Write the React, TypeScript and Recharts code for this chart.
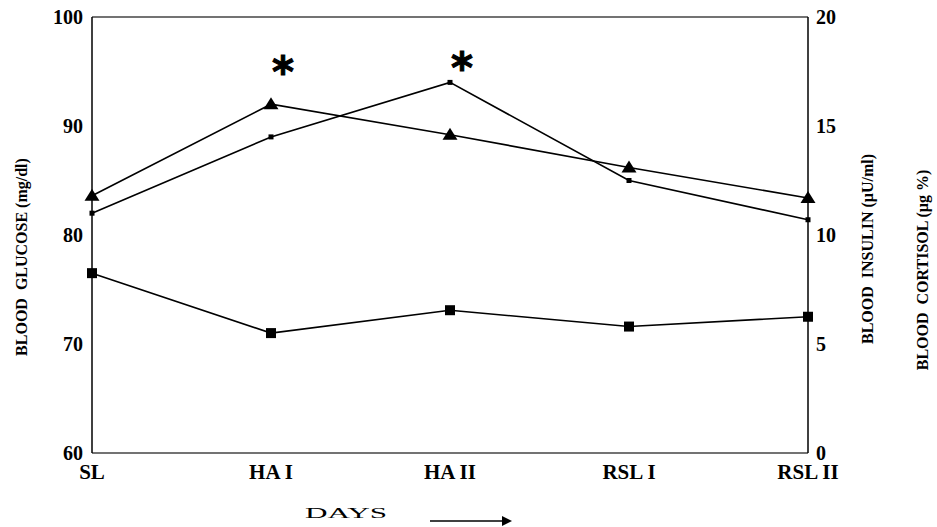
import React from 'react';
import { LineChart, Line, XAxis, YAxis, ReferenceLine } from 'recharts';

const days = ['SL', 'HA I', 'HA II', 'RSL I', 'RSL II'];
const glucose = [76.5, 71.0, 73.1, 71.6, 72.5];
const insulin = [11.0, 14.5, 17.0, 12.5, 10.7];
const cortisol = [11.8, 16.0, 14.6, 13.1, 11.7];
// where the significance asterisks sit (right-axis units)
const significance = [null, 17.8, 18.0, null, null];

const glucoseTicks = [60, 70, 80, 90, 100];
const hormoneTicks = [0, 5, 10, 15, 20];

const data = days.map((d, i) => ({
  day: d,
  glucose: glucose[i],
  insulin: insulin[i],
  cortisol: cortisol[i],
  sig: significance[i],
}));

const FONT = '"Liberation Serif", "Times New Roman", serif';

const BigSquare = (props: any) => {
  const { cx, cy, index } = props;
  if (cx == null || cy == null) return <g key={index} />;
  return <rect key={index} x={cx - 5} y={cy - 5} width={10} height={10} fill="#000" />;
};

const SmallSquare = (props: any) => {
  const { cx, cy, index } = props;
  if (cx == null || cy == null) return <g key={index} />;
  return <rect key={index} x={cx - 2.5} y={cy - 2.5} width={5} height={5} fill="#000" />;
};

const Triangle = (props: any) => {
  const { cx, cy, index } = props;
  if (cx == null || cy == null) return <g key={index} />;
  return (
    <polygon
      key={index}
      points={`${cx},${cy - 7} ${cx + 7.5},${cy + 5} ${cx - 7.5},${cy + 5}`}
      fill="#000"
    />
  );
};

const Asterisk = (props: any) => {
  const { cx, cy, index } = props;
  if (cx == null || cy == null || Number.isNaN(cy)) return <g key={index} />;
  return (
    <text
      key={index}
      x={cx + 12}
      y={cy + 22}
      textAnchor="middle"
      fontFamily='"DejaVu Sans", sans-serif'
      fontWeight="bold"
      fontSize={42}
      stroke="#000"
      strokeWidth={1}
      fill="#000"
    >
      *
    </text>
  );
};

const tickStyle = { fontFamily: FONT, fontWeight: 'bold' as const, fill: '#000' };

export default function App() {
  return (
    <div style={{ position: 'absolute', left: 0, top: 0, width: 937, height: 527, background: '#fff' }}>
      <LineChart
        width={937}
        height={527}
        data={data}
        margin={{ top: 17, right: 89, bottom: 44, left: 0 }}
      >
        <XAxis
          dataKey="day"
          axisLine={{ stroke: '#444', strokeWidth: 1.5 }}
          tickLine={false}
          tickSize={0}
          tickMargin={11}
          height={30}
          interval={0}
          tick={{ ...tickStyle, fontSize: 21 }}
        />
        <YAxis
          yAxisId="left"
          domain={[60, 100]}
          ticks={glucoseTicks}
          width={92}
          axisLine={{ stroke: '#000', strokeWidth: 1.5 }}
          tickLine={false}
          tickSize={0}
          tickMargin={9}
          tick={{ ...tickStyle, fontSize: 20 }}
        />
        <YAxis
          yAxisId="right"
          orientation="right"
          domain={[0, 20]}
          ticks={hormoneTicks}
          width={40}
          axisLine={{ stroke: '#000', strokeWidth: 1.5 }}
          tickLine={false}
          tickSize={0}
          tickMargin={8}
          tick={{ ...tickStyle, fontSize: 20 }}
        />
        <ReferenceLine yAxisId="left" y={100} stroke="#444" strokeWidth={1.5} />
        <Line
          yAxisId="left"
          dataKey="glucose"
          stroke="#000"
          strokeWidth={1.6}
          dot={BigSquare}
          isAnimationActive={false}
        />
        <Line
          yAxisId="right"
          dataKey="insulin"
          stroke="#000"
          strokeWidth={1.6}
          dot={SmallSquare}
          isAnimationActive={false}
        />
        <Line
          yAxisId="right"
          dataKey="cortisol"
          stroke="#000"
          strokeWidth={1.6}
          dot={Triangle}
          isAnimationActive={false}
        />
        <Line
          yAxisId="right"
          dataKey="sig"
          stroke="none"
          dot={Asterisk}
          activeDot={false}
          isAnimationActive={false}
        />
      </LineChart>
      <svg
        width={937}
        height={527}
        style={{ position: 'absolute', left: 0, top: 0, pointerEvents: 'none' }}
      >
        <g fontFamily={FONT} fontWeight={700} fontSize={16} fill="#000">
          <text
            transform="translate(21,257) rotate(-90)"
            textAnchor="middle"
            dominantBaseline="central"
            style={{ whiteSpace: 'pre' }}
          >
            BLOOD  GLUCOSE (mg/dl)
          </text>
          <text
            transform="translate(867,249) rotate(-90)"
            textAnchor="middle"
            dominantBaseline="central"
            style={{ whiteSpace: 'pre' }}
          >
            BLOOD  INSULIN (μU/ml)
          </text>
          <text
            transform="translate(922,270) rotate(-90)"
            textAnchor="middle"
            dominantBaseline="central"
            style={{ whiteSpace: 'pre' }}
          >
            BLOOD  CORTISOL (μg %)
          </text>
        </g>
        <text
          x={305}
          y={518}
          fontFamily={FONT}
          fontSize={14}
          textLength={82}
          lengthAdjust="spacingAndGlyphs"
          fill="#000"
        >
          DAYS
        </text>
        <line x1={430} y1={521} x2={503} y2={521} stroke="#000" strokeWidth={1.5} />
        <polygon points="512,521 502,516 502,526" fill="#000" />
      </svg>
    </div>
  );
}
